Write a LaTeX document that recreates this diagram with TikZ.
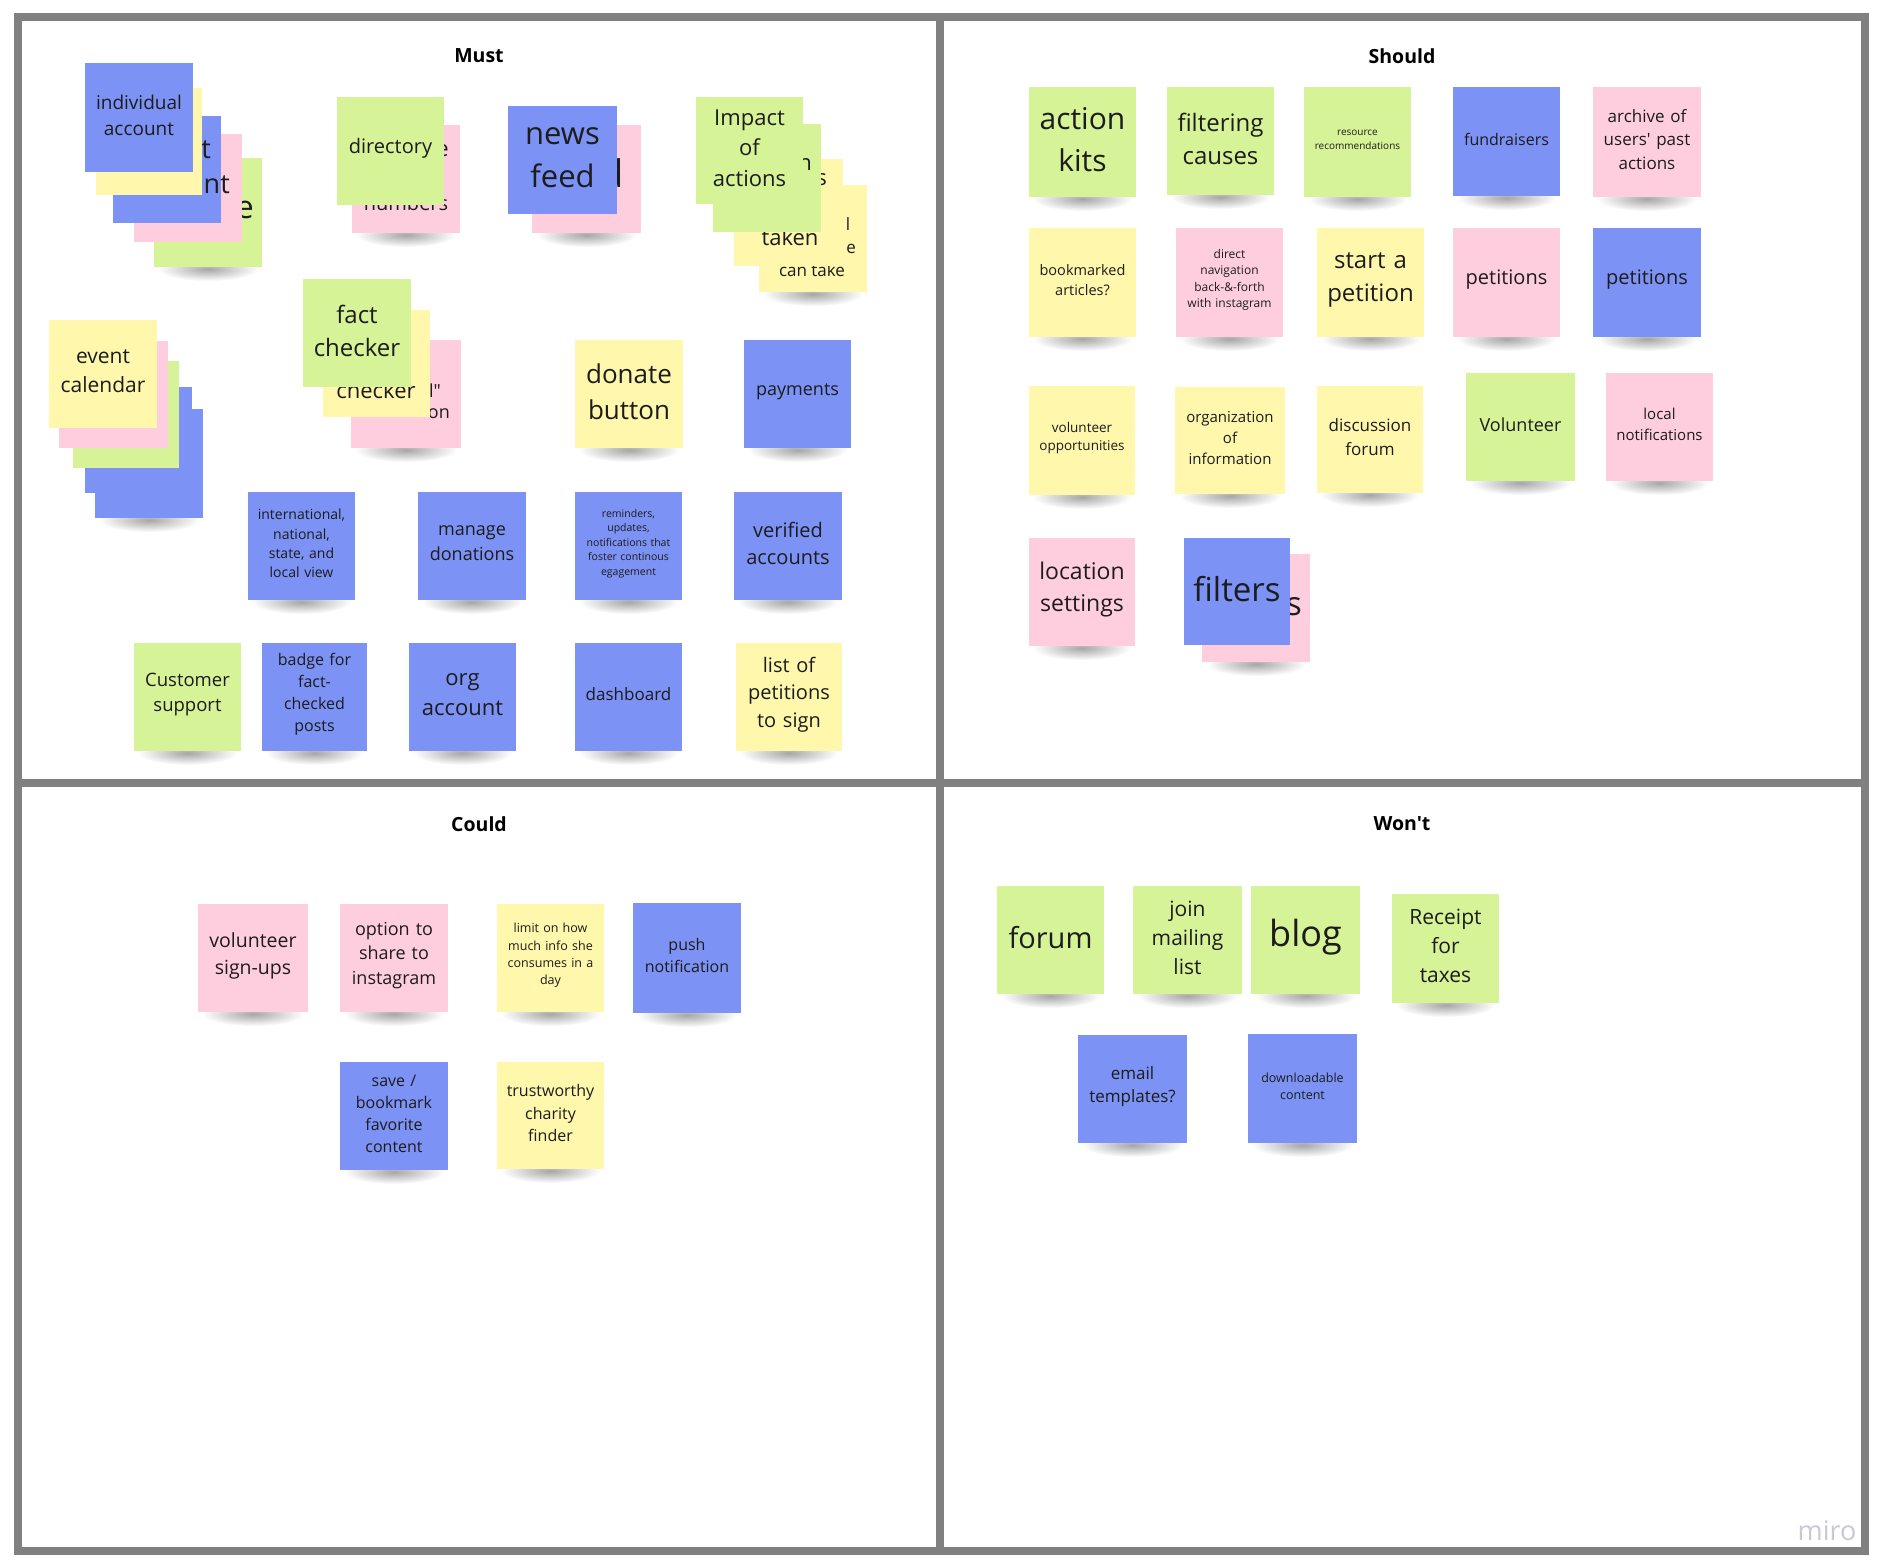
\documentclass[tikz,border=0pt]{standalone}
\usepackage{fontspec}
\setmainfont{Open Sans}[Ligatures=TeXOff]
\usetikzlibrary{fadings}
\definecolor{nblue}{RGB}{124,146,245}
\definecolor{ngreen}{RGB}{214,243,152}
\definecolor{nyellow}{RGB}{254,247,172}
\definecolor{npink}{RGB}{255,206,222}
\definecolor{frameg}{RGB}{128,128,128}
\definecolor{ink}{RGB}{28,28,28}
\definecolor{miroc}{RGB}{200,200,214}
\tikzfading[name=softfade, inner color=transparent!0, outer color=transparent!100]
\tikzset{
  sticky/.style={rectangle, inner sep=0pt},
  stickytext/.style={inner sep=0pt, align=center, text=ink},
  fragtext/.style={inner sep=0pt, text=ink},
  quad/.style={draw=frameg, line width=8pt},
  heading/.style={font=\bfseries\fontsize{19.5}{24}\selectfont, text=black},
}
\newcommand\nshadow[4]{%
  \fill[black, opacity=0.35, path fading=softfade] ({(#1+#3)/2},{#4+2}) ellipse [x radius={((#3-#1)/2-4)*1pt}, y radius=12pt];}
\newcommand\nbox[8]{%
  \pgfmathsetmacro\nw{#4-#2}\pgfmathsetmacro\nh{#5-#3}\pgfmathsetmacro\tw{#4-#2-8}%
  \node[sticky, fill=#6, minimum width=\nw pt, minimum height=\nh pt] (#1) at ({(#2+#4)/2},{(#3+#5)/2}) {};
  \node[stickytext, text width=\tw pt, font=\fontsize{#7}{\fpeval{1.38*#7}}\selectfont] (#1t) at ([yshift=2.5pt]#1.center) {#8};}
\newcommand\note[8]{\nshadow{#2}{#3}{#4}{#5}\nbox{#1}{#2}{#3}{#4}{#5}{#6}{#7}{#8}}
\newcommand\fragment[5]{%
  \node[fragtext, anchor=base east, font=\fontsize{#4}{#4}\selectfont] (#1) at (#2,#3) {#5};}
\begin{document}
\begin{tikzpicture}[x=1pt,y=-1pt]
\useasboundingbox (0,0) rectangle (1882,1566);
\fill[white] (0,0) rectangle (1882,1566);
\draw[quad] (18,17) rectangle (1865,1551);
\draw[quad] (939.5,17) -- (939.5,1551);
\draw[quad] (18,783) -- (1865,783);

\node[heading] (tmust) at (479,56) {Must};
\node[heading] (tshould) at (1402,56) {Should};
\node[heading] (tcould) at (479,824) {Could};
\node[heading] (twont) at (1402,824) {Won't};

% ---------- Must ----------
% stack: individual account
\note{a5}{154}{158}{262}{267}{ngreen}{20}{}
\fragment{a5f}{254}{218}{32}{e}
\nbox{a4}{134}{134}{242}{242}{npink}{20}{}
\nbox{a3}{113}{116}{221}{223}{nblue}{20}{}
\fragment{a3f}{211}{158}{27}{nt}
\fragment{a3g}{230}{193}{27}{nt}
\nbox{a2}{96}{88}{202}{195}{nyellow}{20}{}
\nbox{a1}{85}{63}{193}{172}{nblue}{19}{individual\\account}

% stack: directory
\note{d2}{352}{125}{460}{233}{npink}{20}{}
\fragment{d2f}{449}{156}{22}{e}
\node[fragtext, anchor=base, font=\fontsize{20}{20}\selectfont] (d2g) at (406,210) {numbers};
\nbox{d1}{337}{97}{444}{205}{ngreen}{20}{directory}

% stack: news feed
\note{n2}{532}{125}{641}{233}{npink}{31}{}
\fragment{n2f}{624}{187}{38}{d}
\nbox{n1}{508}{106}{617}{214}{nblue}{31}{news\\feed}

% stack: impact of actions
\note{i4}{759}{185}{867}{292}{nyellow}{17}{}
\node[fragtext, anchor=base, font=\fontsize{17}{17}\selectfont] (i4f) at (848,230) {l};
\fragment{i4g}{856}{253}{17}{e}
\node[fragtext, anchor=base, font=\fontsize{17}{17}\selectfont] (i4h) at (812,276) {can take};
\nbox{i3}{734}{159}{843}{266}{nyellow}{22}{}
\node[fragtext, anchor=base, font=\fontsize{22}{22}\selectfont] (i3f) at (790,245) {taken};
\fragment{i3g}{827}{185}{22}{s}
\nbox{i2}{713}{124}{821}{232}{ngreen}{22}{}
\fragment{i2f}{812}{170}{22}{n}
\nbox{i1}{696}{97}{803}{204}{ngreen}{22}{Impact\\of\\actions}

% stack: event calendar
\note{e5}{95}{409}{203}{518}{nblue}{20}{}
\nbox{e4}{85}{387}{192}{493}{nblue}{20}{}
\nbox{e3}{73}{361}{179}{468}{ngreen}{20}{}
\nbox{e2}{59}{341}{168}{448}{npink}{20}{}
\nbox{e1}{49}{320}{157}{428}{nyellow}{21}{event\\calendar}

% stack: fact checker
\note{f3}{351}{340}{461}{448}{npink}{18}{}
\fragment{f3f}{441}{397}{18}{l"}
\fragment{f3g}{450}{418}{18}{on}
\nbox{f2}{323}{310}{430}{417}{nyellow}{22}{}
\node[fragtext, anchor=base, font=\fontsize{22}{22}\selectfont] (f2f) at (376,398) {checker};
\nbox{f1}{303}{279}{411}{387}{ngreen}{24}{fact\\checker}

\note{donate}{575}{340}{683}{448}{nyellow}{26}{donate\\button}
\note{payments}{744}{340}{851}{448}{nblue}{18}{payments}
\note{intl}{248}{492}{355}{600}{nblue}{14}{international,\\national,\\state, and\\local view}
\note{manage}{418}{492}{526}{600}{nblue}{18}{manage\\donations}
\note{remind}{575}{492}{682}{600}{nblue}{10.5}{reminders,\\updates,\\notifications that\\foster continous\\egagement}
\note{verified}{734}{492}{842}{600}{nblue}{20}{verified\\accounts}
\note{customer}{134}{643}{241}{751}{ngreen}{18.5}{Customer\\support}
\note{badge}{262}{643}{367}{751}{nblue}{16}{badge for\\fact-\\checked\\posts}
\note{orgacc}{409}{643}{516}{751}{nblue}{22}{org\\account}
\note{dash}{575}{643}{682}{751}{nblue}{17}{dashboard}
\note{listpet}{736}{643}{842}{751}{nyellow}{20}{list of\\petitions\\to sign}

% ---------- Should ----------
\note{kits}{1029}{87}{1136}{197}{ngreen}{30}{action\\kits}
\note{filtering}{1167}{87}{1274}{195}{ngreen}{24}{filtering\\causes}
\note{resource}{1304}{87}{1411}{197}{ngreen}{10}{resource\\recommendations}
\note{fundraisers}{1453}{87}{1560}{196}{nblue}{16}{fundraisers}
\note{archive}{1593}{87}{1701}{197}{npink}{17}{archive of\\users' past\\actions}
\note{bookmarked}{1029}{228}{1136}{337}{nyellow}{14.5}{bookmarked\\articles?}
\note{direct}{1176}{228}{1283}{337}{npink}{12}{direct\\navigation\\back-\&-forth\\with instagram}
\note{startpet}{1317}{228}{1424}{337}{nyellow}{24}{start a\\petition}
\note{petpink}{1453}{228}{1560}{337}{npink}{20}{petitions}
\note{petblue}{1593}{228}{1701}{337}{nblue}{20}{petitions}
\note{volopp}{1029}{386}{1135}{495}{nyellow}{13.5}{volunteer\\opportunities}
\note{orginfo}{1175}{387}{1285}{494}{nyellow}{15}{organization\\of\\information}
\note{discussion}{1317}{386}{1423}{493}{nyellow}{17}{discussion\\forum}
\note{volunteer}{1466}{373}{1575}{481}{ngreen}{18}{Volunteer}
\note{localnot}{1606}{373}{1713}{481}{npink}{15}{local\\notifications}
\note{location}{1029}{538}{1135}{646}{npink}{23}{location\\settings}
\note{filt2}{1202}{554}{1310}{662}{npink}{33}{}
\fragment{filt2f}{1302}{615}{33}{s}
\nbox{filt1}{1184}{538}{1290}{645}{nblue}{33}{filters}

% ---------- Could ----------
\note{volsign}{198}{904}{308}{1012}{npink}{19.5}{volunteer\\sign-ups}
\note{option}{340}{904}{448}{1012}{npink}{18}{option to\\share to\\instagram}
\note{limit}{497}{904}{604}{1012}{nyellow}{12.5}{limit on how\\much info she\\consumes in a\\day}
\note{push}{633}{903}{741}{1013}{nblue}{16}{push\\notification}
\note{save}{340}{1062}{448}{1170}{nblue}{16}{save /\\bookmark\\favorite\\content}
\note{trust}{497}{1062}{604}{1169}{nyellow}{16}{trustworthy\\charity\\finder}

% ---------- Won't ----------
\note{forum}{997}{886}{1104}{994}{ngreen}{29}{forum}
\note{join}{1133}{886}{1242}{994}{ngreen}{21}{join\\mailing\\list}
\note{blog}{1251}{886}{1360}{994}{ngreen}{36}{blog}
\note{receipt}{1392}{894}{1499}{1003}{ngreen}{21}{Receipt\\for\\taxes}
\note{email}{1078}{1035}{1187}{1143}{nblue}{17}{email\\templates?}
\note{download}{1248}{1034}{1357}{1143}{nblue}{12.5}{downloadable\\content}

\node[font=\fontsize{27}{30}\selectfont, text=miroc, inner sep=0pt] (miro) at (1827,1531) {miro};
\end{tikzpicture}
\end{document}
